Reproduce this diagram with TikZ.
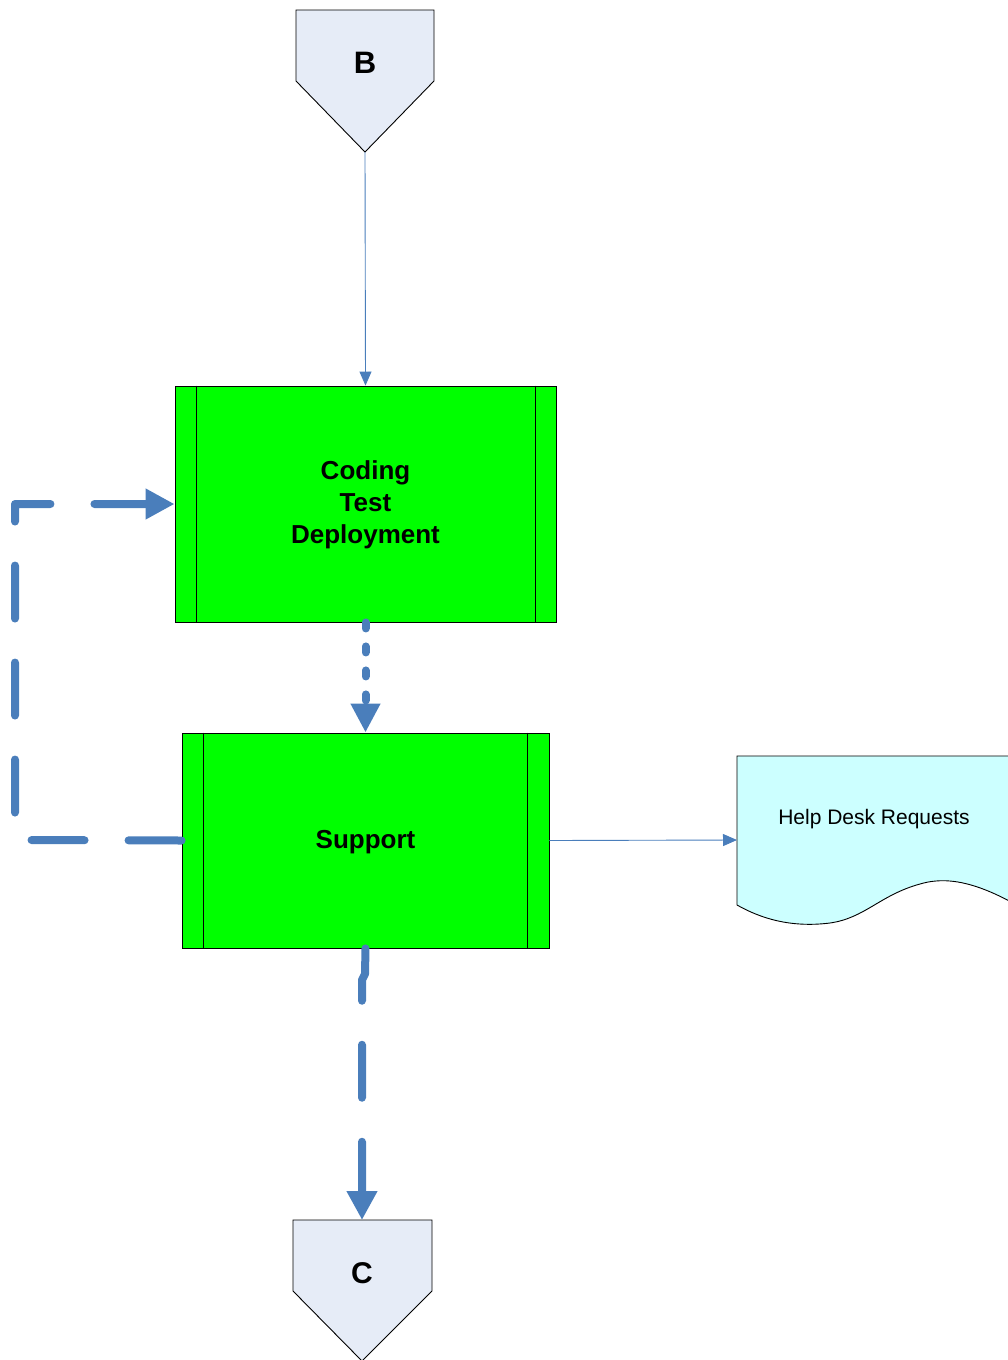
\documentclass[tikz,border=0pt]{standalone}
\usepackage{fontspec}
\setmainfont{Liberation Sans}
\usetikzlibrary{arrows.meta}
\definecolor{lnblue}{HTML}{4A7EBB}
\definecolor{offfill}{HTML}{E6ECF7}
\definecolor{procgreen}{HTML}{00FF00}
\definecolor{docfill}{HTML}{CCFFFF}
\tikzset{
  procbox/.style={draw=black, line width=0.9pt, fill=procgreen, inner sep=0pt},
  proctext/.style={inner sep=0pt, align=center, font=\fontsize{26}{32}\selectfont\bfseries},
  offpage/.style={draw=black, line width=0.9pt, fill=offfill},
  thinconn/.style={draw=lnblue, line width=0.9pt, -{Triangle[length=14pt,width=12pt]}},
  thickdash/.style={draw=lnblue, line width=8pt, line cap=round, line join=round,
    dash pattern=on 53pt off 44pt, -{Triangle[length=29pt,width=29pt]}},
  thickdot/.style={draw=lnblue, line width=8pt, line cap=round,
    dash pattern=on 6pt off 18pt, -{Triangle[length=29pt,width=28pt]}},
}
\begin{document}
\begin{tikzpicture}[x=1pt,y=-1pt]
\useasboundingbox (0,0) rectangle (1008,1360);
\clip (0,0) rectangle (1008,1360);
% off-page connector B
\draw[offpage] (296,10) -- (434,10) -- (434,81) -- (365,152) -- (296,81) -- cycle;
\node[font=\fontsize{31}{36}\selectfont\bfseries] (B) at (365,63) {B};
\coordinate (Bp) at (365,152);
% off-page connector C
\draw[offpage] (293,1220) -- (432,1220) -- (432,1291) -- (362,1361) -- (293,1291) -- cycle;
\node[font=\fontsize{30}{36}\selectfont\bfseries] (C) at (362,1273) {C};
\coordinate (Ct) at (362,1220);
% document shape
\draw[draw=black, line width=0.9pt, fill=docfill]
  (737,905) -- (737,756) -- (1040,756) -- (1040,918)
  .. controls (1000,895) and (960,872) .. (920,884)
  .. controls (880,895) and (865,918) .. (830,923)
  .. controls (790,928) and (760,918) .. (737,905);
\node[font=\fontsize{21}{25}\selectfont] (hd) at (874,819) {Help Desk Requests};
\coordinate (hdin) at (737,840);
% process boxes
\node[procbox, minimum width=381pt, minimum height=236pt] (cod) at (365.5,504) {};
\node[proctext] (codtxt) at (365.5,505) {Coding\\Test\\Deployment};
\draw[line width=0.9pt] ([xshift=22pt]cod.north west) -- ([xshift=22pt]cod.south west)
  ([xshift=-21pt]cod.north east) -- ([xshift=-21pt]cod.south east);
\node[procbox, minimum width=367pt, minimum height=215pt] (sup) at (365.5,840.5) {};
\node[proctext] (suptxt) at (365.5,842) {Support};
\draw[line width=0.9pt] ([xshift=22pt]sup.north west) -- ([xshift=22pt]sup.south west)
  ([xshift=-22pt]sup.north east) -- ([xshift=-22pt]sup.south east);
% connectors
\draw[thinconn] (Bp) -- (cod.north);
\draw[thickdot] (cod.south) -- (sup.north);
\draw[thickdash] (sup.west) -- (15,840) -- (15,504) -- (cod.west);
\draw[thickdash] (sup.south) -- (365,974) -- (362,980) -- (Ct);
\draw[thinconn] (sup.east) -- (hdin);
\end{tikzpicture}
\end{document}
